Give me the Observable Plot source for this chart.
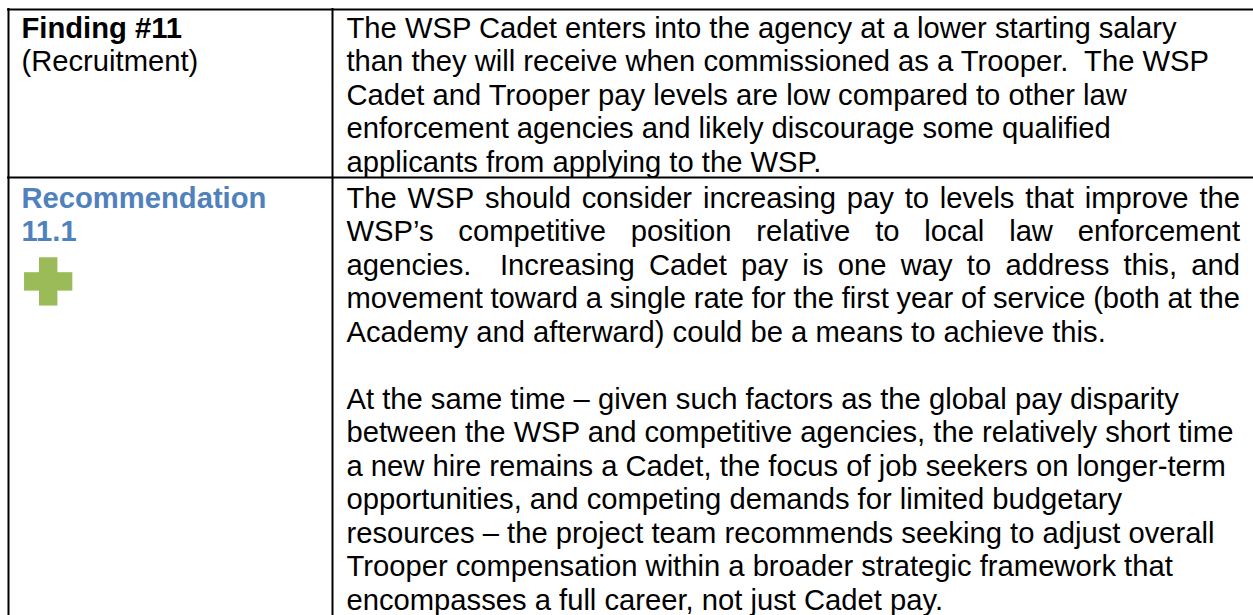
<!DOCTYPE html>
<html>
<head>
<meta charset="utf-8">
<script src="https://cdn.jsdelivr.net/npm/d3@7"></script>
<script src="https://cdn.jsdelivr.net/npm/@observablehq/plot@0.6"></script>
<style>
  html, body { margin: 0; padding: 0; background: #ffffff; }
  #chart svg { display: block; }
</style>
</head>
<body>
<div id="chart"></div>
<script>
// ---------------- data ----------------
const findingLabel = ["Finding #11", "(Recruitment)"];
const findingText = [
  "The WSP Cadet enters into the agency at a lower starting salary",
  "than they will receive when commissioned as a Trooper.  The WSP",
  "Cadet and Trooper pay levels are low compared to other law",
  "enforcement agencies and likely discourage some qualified",
  "applicants from applying to the WSP."
];
const recommendationLabel = ["Recommendation", "11.1"];
const recommendationText = [
  "The WSP should consider increasing pay to levels that improve the",
  "WSP\u2019s competitive position relative to local law enforcement",
  "agencies.  Increasing Cadet pay is one way to address this, and",
  "movement toward a single rate for the first year of service (both at the",
  "Academy and afterward) could be a means to achieve this.",
  "",
  "At the same time \u2013 given such factors as the global pay disparity",
  "between the WSP and competitive agencies, the relatively short time",
  "a new hire remains a Cadet, the focus of job seekers on longer-term",
  "opportunities, and competing demands for limited budgetary",
  "resources \u2013 the project team recommends seeking to adjust overall",
  "Trooper compensation within a broader strategic framework that",
  "encompasses a full career, not just Cadet pay."
];
const justifiedLines = [0, 1, 2, 3];

// ---------------- layout ----------------
const W = 1253, H = 615;
const FONT = '"Liberation Sans", Arial, Helvetica, sans-serif';
const fontSize = 29.2, pitch = 33.5;
const tableLeft = 8, colDivider = 332, tableRight = 1253, tableTop = 9, rowDivider = 177;
const leftTextX = 21, rightTextX = 346, rightTextEnd = 1239.5;
const row1Baseline = 37, row2Baseline = 207;
const BLUE = "#4F81BD", GREEN = "#9BBB59", BLACK = "#000000";
const plus = {cx: 48.2, cy: 281.4, size: 48.3, arm: 18.4};
const borderWidth = 2;

const ctx = document.createElement("canvas").getContext("2d");
function measure(s, weight = "normal") {
  ctx.font = `${weight} ${fontSize}px ${FONT}`;
  return ctx.measureText(s).width;
}
const pre = (s) => s.replace(/  /g, "\u00A0 ");

const lines = [];
findingLabel.forEach((t, i) => lines.push({text: t, x: leftTextX, baseline: row1Baseline + i * pitch, style: i === 0 ? "bold" : "regular"}));
findingText.forEach((t, i) => lines.push({text: pre(t), x: rightTextX, baseline: row1Baseline + i * pitch, style: "regular"}));
recommendationLabel.forEach((t, i) => lines.push({text: t, x: leftTextX, baseline: row2Baseline + i * pitch, style: "blue"}));
recommendationText.forEach((t, i) => {
  if (!t) return;
  const b = row2Baseline + i * pitch;
  if (justifiedLines.includes(i)) {
    const tokens = t.split(" ");
    const extra = (rightTextEnd - rightTextX - measure(t)) / (tokens.length - 1);
    let prefix = "";
    tokens.forEach((tok, k) => {
      if (tok) lines.push({text: tok, x: rightTextX + measure(prefix) + extra * k, baseline: b, style: "regular"});
      prefix += tok + " ";
    });
  } else {
    lines.push({text: pre(t), x: rightTextX, baseline: b, style: "regular"});
  }
});

const hRules = [tableTop, rowDivider].map(y => ({y, x1: tableLeft - borderWidth / 2, x2: tableRight}));
const vRules = [tableLeft, colDivider].map(x => ({x, y1: tableTop - borderWidth / 2, y2: H + 10}));
const plusBars = [
  {x1: plus.cx - plus.size / 2, x2: plus.cx + plus.size / 2, y1: plus.cy - plus.arm / 2, y2: plus.cy + plus.arm / 2},
  {x1: plus.cx - plus.arm / 2, x2: plus.cx + plus.arm / 2, y1: plus.cy - plus.size / 2, y2: plus.cy + plus.size / 2}
];

const textY = d => d.baseline - 0.71 * fontSize;
const textOpts = (style, fill, weight) => ({
  filter: d => d.style === style,
  x: "x", y: textY, text: "text",
  textAnchor: "start", lineAnchor: "top",
  fontSize, fontFamily: FONT, fontWeight: weight, fill
});

const chart = Plot.plot({
  width: W, height: H, margin: 0,
  style: {background: "#ffffff", fontFamily: FONT},
  x: {domain: [0, W], range: [0, W], axis: null},
  y: {domain: [0, H], range: [0, H], axis: null},
  marks: [
    Plot.rect(plusBars, {x1: "x1", x2: "x2", y1: "y1", y2: "y2", fill: GREEN}),
    Plot.text(lines, textOpts("regular", BLACK, "normal")),
    Plot.text(lines, textOpts("bold", BLACK, "bold")),
    Plot.text(lines, textOpts("blue", BLUE, "bold")),
    Plot.ruleY(hRules, {y: "y", x1: "x1", x2: "x2", stroke: BLACK, strokeWidth: borderWidth}),
    Plot.ruleX(vRules, {x: "x", y1: "y1", y2: "y2", stroke: BLACK, strokeWidth: borderWidth})
  ]
});
document.getElementById("chart").appendChild(chart);
</script>
</body>
</html>
